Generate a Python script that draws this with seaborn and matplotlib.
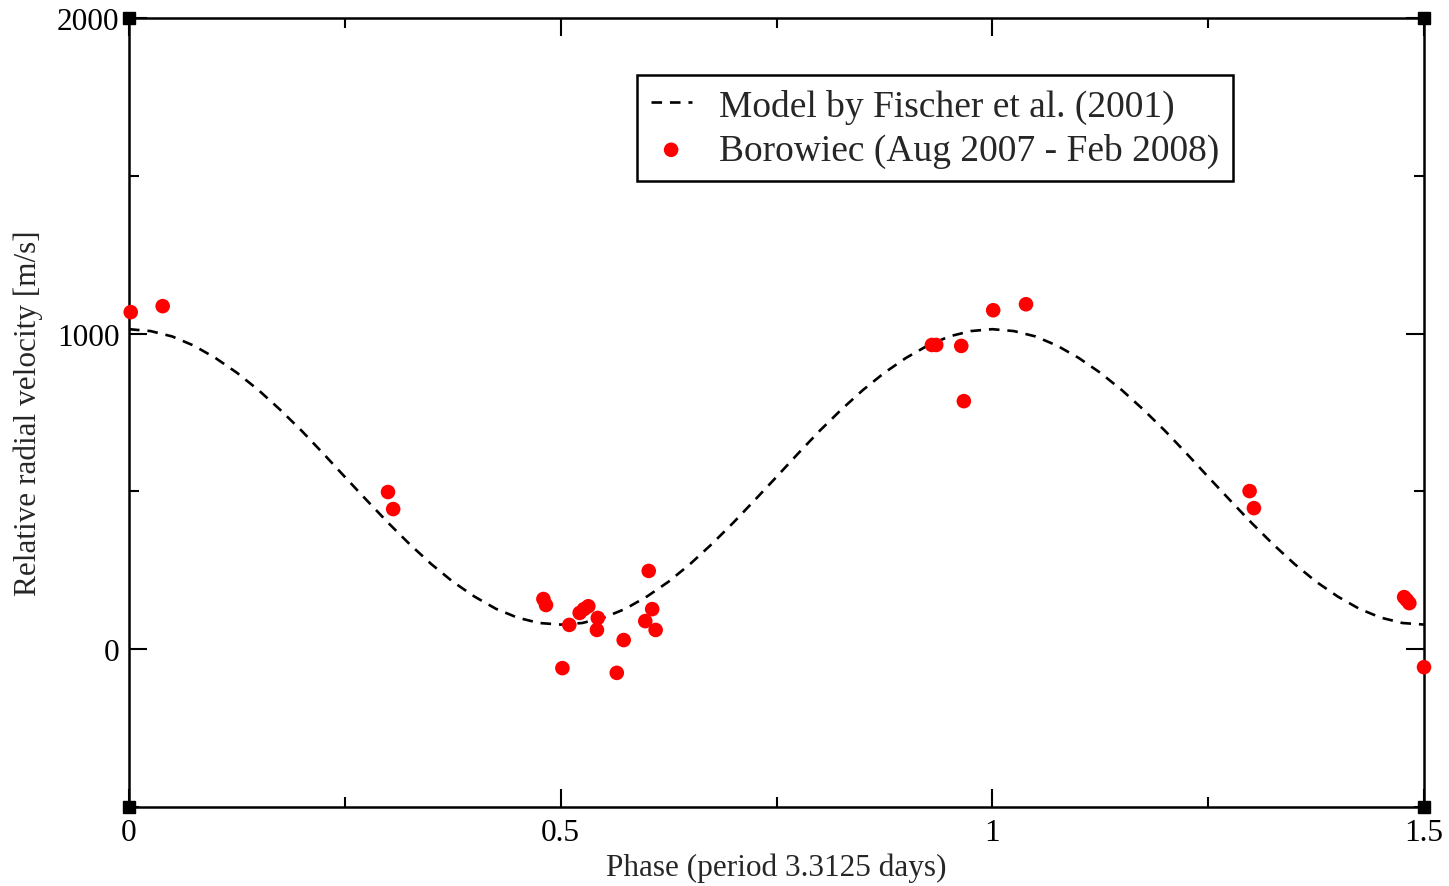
import numpy as np
import pandas as pd
import matplotlib
matplotlib.use("Agg")
import matplotlib.pyplot as plt
from matplotlib.ticker import MultipleLocator
import seaborn as sns

# ---- data ----
model_phase = [round(0.025 * i, 3) for i in range(61)]
model_velocity = [
    1014, 1008, 991, 962, 923, 876, 821, 759, 692, 620, 546,
    473, 401, 333, 270, 214, 167, 128, 100, 83, 78,
    83, 100, 128, 167, 214, 270, 333, 401, 473, 546,
    620, 692, 759, 821, 876, 923, 962, 991, 1008, 1014,
    1008, 991, 962, 923, 876, 821, 759, 692, 620, 546,
    473, 401, 333, 270, 214, 167, 128, 100, 83, 78,
]

obs_phase = [0.002, 0.039, 0.300, 0.306, 0.480, 0.483, 0.502, 0.510, 0.522,
             0.527, 0.532, 0.543, 0.542, 0.565, 0.573, 0.598, 0.602, 0.606,
             0.610, 0.930, 0.935, 0.964, 0.967, 1.001, 1.039, 1.298, 1.303,
             1.477, 1.480, 1.483, 1.500]
obs_velocity = [1068, 1087, 498, 444, 159, 140, -60, 77, 115,
                127, 136, 99, 61, -75, 29, 89, 248, 127,
                61, 964, 964, 961, 786, 1074, 1093, 501, 447,
                165, 156, 146, -57]

x_ticks = [0, 0.5, 1, 1.5]
x_tick_labels = ["0", "0.5", "1", "1.5"]
y_ticks = [0, 1000, 2000]
y_tick_labels = ["0", "1000", "2000"]

model_label = "Model by Fischer et al. (2001)"
obs_label = "Borowiec (Aug 2007 - Feb 2008)"

# ---- style ----
sns.set_style("ticks")
plt.rcParams["font.family"] = ["Liberation Serif", "DejaVu Serif"]

fig = plt.figure(figsize=(14.49, 8.87), dpi=100)
ax = fig.add_axes([129 / 1449, 1 - 808 / 887, (1424 - 129) / 1449, (808 - 19) / 887])

model_df = pd.DataFrame({"phase": model_phase, "v": model_velocity})
obs_df = pd.DataFrame({"phase": obs_phase, "v": obs_velocity})

sns.lineplot(data=model_df, x="phase", y="v", ax=ax, color="black",
             linewidth=1.9, label=model_label, sort=False)
ax.lines[-1].set_dashes((4.0, 3.0))
sns.scatterplot(data=obs_df, x="phase", y="v", ax=ax, color="#ff0000",
                s=110, edgecolor="none", label=obs_label, zorder=3,
                clip_on=False)

ax.set_xlim(0, 1.5)
ax.set_ylim(-500, 2000)
ax.set_xticks(x_ticks)
ax.set_xticklabels(x_tick_labels)
ax.set_yticks(y_ticks)
ax.set_yticklabels(y_tick_labels)
ax.xaxis.set_minor_locator(MultipleLocator(0.25))
ax.yaxis.set_minor_locator(MultipleLocator(500))

ax.tick_params(which="both", direction="in", top=True, right=True,
               width=1.5, labelsize=22.5, colors="black")
ax.tick_params(which="major", length=13, pad=8)
ax.tick_params(which="minor", length=7)
ax.tick_params(axis="y", which="major", pad=7)
for s in ax.spines.values():
    s.set_linewidth(1.8)
    s.set_color("black")
    s.set_visible(True)

ax.set_xlabel("Phase (period 3.3125 days)", fontsize=22.5, labelpad=4)
ax.set_ylabel("Relative radial velocity [m/s]", fontsize=22.5, labelpad=10)

# corner squares (xmgrace style)
for cx, cy in [(0, 0), (1, 0), (0, 1), (1, 1)]:
    ax.plot([cx], [cy], marker="s", markersize=8.5, color="black",
            transform=ax.transAxes, clip_on=False, zorder=5)

leg = ax.legend(loc="upper left", bbox_to_anchor=((637 - 129) / 1295, 1 - (76 - 19) / 789),
                fontsize=27, frameon=True, fancybox=False, framealpha=1,
                edgecolor="black", handlelength=1.1, handletextpad=0.72,
                borderpad=0.36, labelspacing=0.24, borderaxespad=0)
leg.get_frame().set_linewidth(1.8)

fig.savefig("out.png", dpi=100)
